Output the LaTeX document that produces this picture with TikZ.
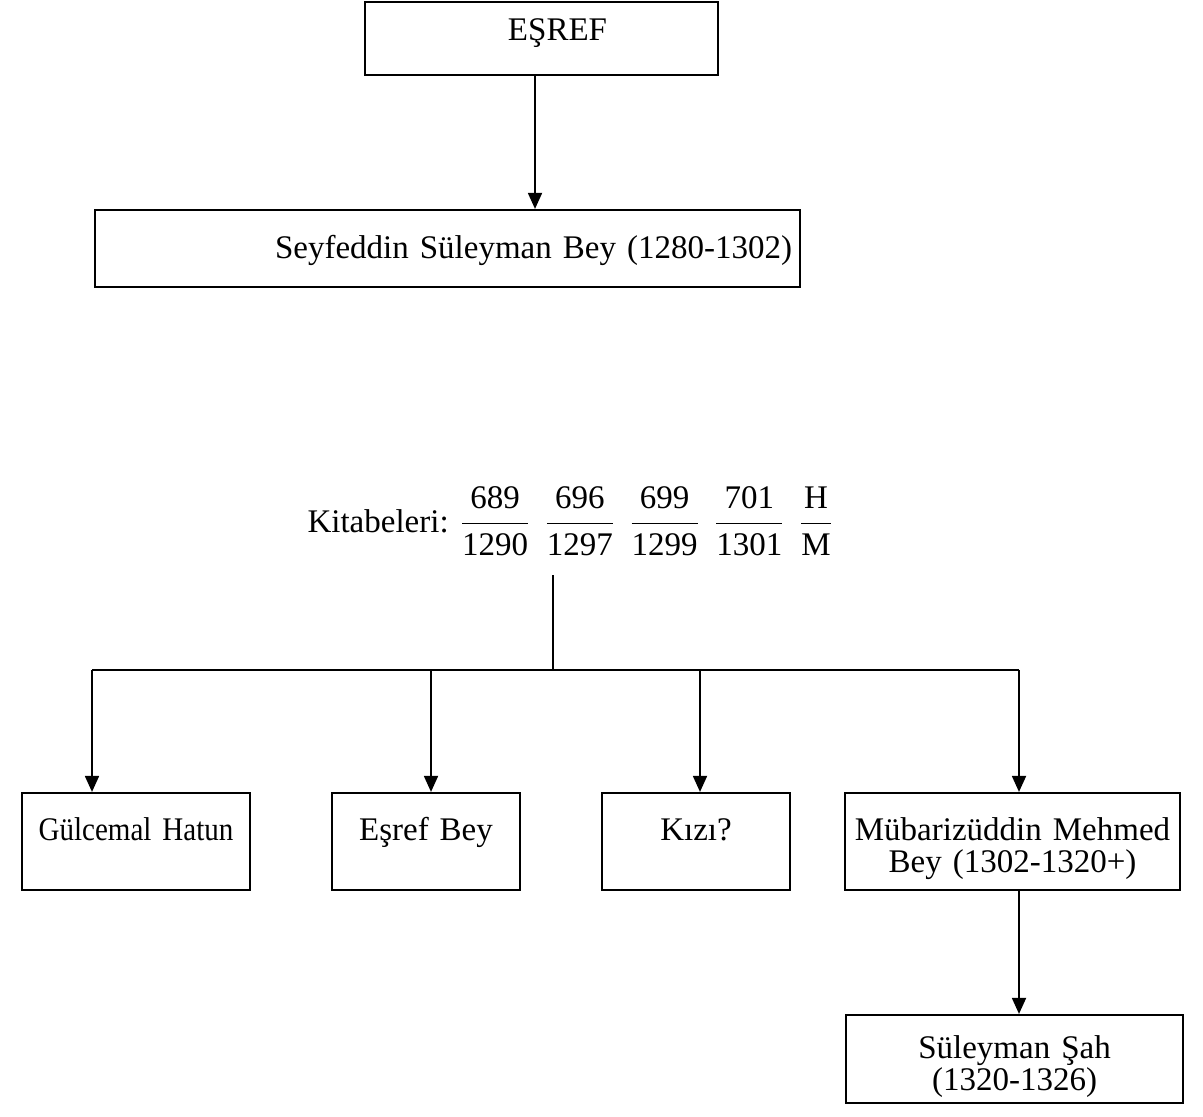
\documentclass[tikz,border=0pt]{standalone}
\usepackage{amsmath}
\usepackage{fontspec}
\setmainfont{Liberation Serif}
\usetikzlibrary{arrows.meta}
\newcommand{\kfrac}[2]{\genfrac{}{}{0.8pt}{0}{\mbox{#1}}{\mbox{#2}}}
\newcommand{\kfont}{\fontsize{16.5}{16}\selectfont}
\tikzset{
  kutu/.style={draw, line width=1.1pt, inner ysep=0pt, inner xsep=2pt, align=center, text width=#1, font=\kfont},
}
\begin{document}
\begin{tikzpicture}[x=0.5pt,y=-0.5pt,>={Triangle[length=8pt,width=7pt]},line width=0.9pt]
\useasboundingbox (0,0) rectangle (1203,1116);
% boxes
\node[kutu=172.5pt, text height=19pt, text depth=17.5pt] (esref) at (541.5,38.5) {\hspace*{16pt}EŞREF};
\node[kutu=344.5pt, inner xsep=4pt, align=right, text height=24pt, text depth=14.5pt] (seyf) at (447.5,248.5) {Seyfeddin Süleyman Bey (1280-1302)};
\node[anchor=base west, font=\kfont] (kitabe) at (300,532) {Kitabeleri: $\kfrac{689}{1290}$\hspace{7pt}$\kfrac{696}{1297}$\hspace{7pt}$\kfrac{699}{1299}$\hspace{7pt}$\kfrac{701}{1301}$\hspace{7pt}$\kfrac{H}{M}$};
\node[kutu=110pt, text height=23.5pt, text depth=25pt] (gul) at (136,841.5) {\addfontfeature{FakeStretch=0.88}Gülcemal Hatun};
\node[kutu=90pt, text height=23.5pt, text depth=25pt] (esbey) at (426,841.5) {Eşref Bey};
\node[kutu=90pt, text height=23.5pt, text depth=25pt] (kizi) at (696,841.5) {Kızı?};
\node[kutu=163.5pt, text height=23.5pt, text depth=25pt] (mub) at (1012.5,841.5) {Mübarizüddin Mehmed\\Bey (1302-1320+)};
\node[kutu=164.5pt, text height=21.5pt, text depth=22.5pt] (sah) at (1014.5,1059) {Süleyman Şah\\(1320-1326)};
% connectors
\coordinate (e1) at ([xshift=-3.25pt]esref.south);
\draw[->] (e1) -- (e1 |- seyf.north);
\coordinate (ktop) at (553,575);
\coordinate (bar) at (553,670);
\foreach \x [count=\i] in {92,431,700,1019}
  \coordinate (b\i) at (\x,670);
\draw[line width=0.6pt] (ktop) -- (bar);
\draw (b1) -- (b4);
\foreach \n [count=\i] in {gul,esbey,kizi,mub}
  \draw[->] (b\i) -- (b\i |- \n.north);
\coordinate (m1) at ([xshift=3.25pt]mub.south);
\draw[->] (m1) -- (m1 |- sah.north);
\end{tikzpicture}
\end{document}
